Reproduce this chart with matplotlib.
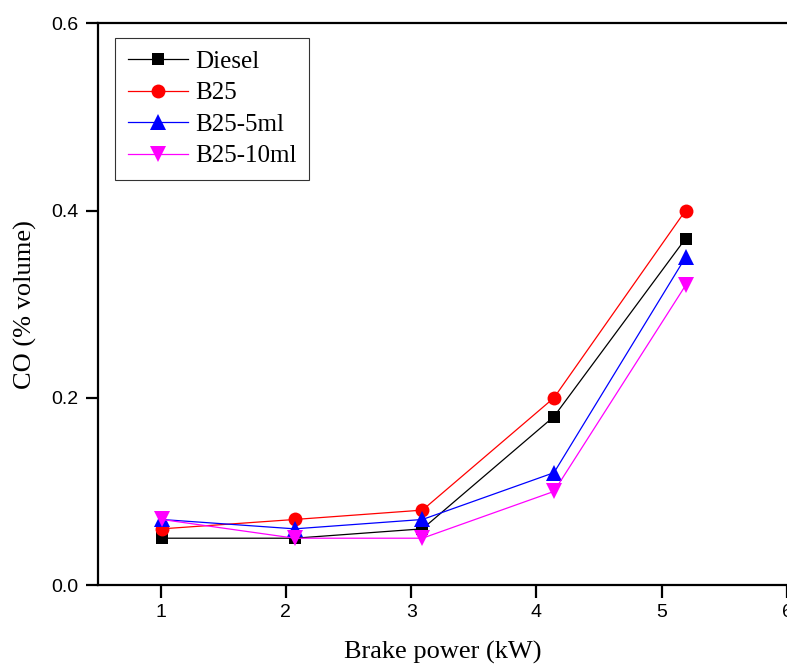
import matplotlib
matplotlib.use("Agg")
import matplotlib.pyplot as plt

# brake power (kW) and CO emissions (% volume)
power = [1.01, 2.07, 3.09, 4.14, 5.19]
diesel = [0.05, 0.05, 0.06, 0.18, 0.37]
b25 = [0.06, 0.07, 0.08, 0.20, 0.40]
b25_5ml = [0.07, 0.06, 0.07, 0.12, 0.35]
b25_10ml = [0.07, 0.05, 0.05, 0.10, 0.32]

series = [
    ("Diesel", diesel, "black", "s", 9),
    ("B25", b25, "red", "o", 10),
    ("B25-5ml", b25_5ml, "blue", "^", 11),
    ("B25-10ml", b25_10ml, "magenta", "v", 11),
]

fig = plt.figure(figsize=(7.87, 6.66), dpi=100)
ax = fig.add_axes([0.1245, 0.1216, 0.8755, 0.8434])

for name, vals, col, mk, ms in series:
    ax.plot(power, vals, color=col, marker=mk, markersize=ms, lw=0.9,
            markeredgewidth=0, label=name)

ax.set_xlim(0.5, 6.0)
ax.set_ylim(0.0, 0.6)
ax.set_xticks([1, 2, 3, 4, 5, 6])
ax.set_yticks([0.0, 0.2, 0.4, 0.6])
ax.set_yticklabels(["0.0", "0.2", "0.4", "0.6"])

for s in ax.spines.values():
    s.set_linewidth(1.6)
ax.spines["right"].set_visible(False)
ax.tick_params(direction="out", length=9, width=1.6, labelsize=14, pad=5)
for lab in ax.get_xticklabels() + ax.get_yticklabels():
    lab.set_family("Liberation Sans")

ax.set_xlabel("Brake power (kW)", family="Liberation Serif", fontsize=19, labelpad=14)
ax.set_ylabel("CO (% volume)", family="Liberation Serif", fontsize=19, labelpad=10)

leg = ax.legend(loc="upper left", bbox_to_anchor=(0.025, 0.974), borderaxespad=0,
                fancybox=False, edgecolor="black",
                prop={"family": "Liberation Serif", "size": 18},
                handlelength=2.4, labelspacing=0.36, borderpad=0.5, handletextpad=0.3)
leg.get_frame().set_linewidth(0.8)

fig.savefig("out.png", dpi=100)
